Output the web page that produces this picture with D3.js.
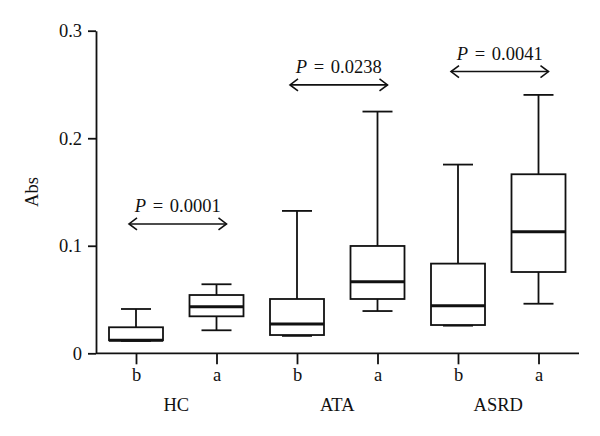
<!DOCTYPE html>
<html>
<head>
<meta charset="utf-8">
<script src="https://cdn.jsdelivr.net/npm/d3@7"></script>
<style>
  body { margin: 0; background: #fff; }
  svg text { font-family: "Liberation Serif", "Times New Roman", serif; font-size: 18.5px; fill: #111; }
  .axis path, .axis line { stroke: #111; stroke-width: 1.8; }
  .box { fill: none; stroke: #111; stroke-width: 1.8; }
  .median { stroke: #111; stroke-width: 3; }
  .whisker { stroke: #111; stroke-width: 1.8; }
  .arrow { fill: none; stroke: #111; stroke-width: 1.6; }
  .ptext { word-spacing: 2px; }
</style>
</head>
<body>
<svg id="chart" width="600" height="436"></svg>
<script>
// groups and conditions (b = before, a = after)
const groups = ["HC", "ATA", "ASRD"];
const conditions = ["b", "a"];

// box statistics, in order HC-b, HC-a, ATA-b, ATA-a, ASRD-b, ASRD-a
const whiskerLow  = [0.0115, 0.0214, 0.0162, 0.0393, 0.0257, 0.0461];
const quartile1   = [0.0121, 0.0344, 0.0170, 0.0505, 0.0263, 0.0756];
const medians     = [0.0121, 0.0434, 0.0273, 0.0666, 0.0443, 0.1131];
const quartile3   = [0.0242, 0.0542, 0.0505, 0.0998, 0.0834, 0.1665];
const whiskerHigh = [0.0412, 0.0642, 0.1324, 0.2248, 0.1755, 0.2403];

// comparison b vs a per group
const pValues = ["0.0001", "0.0238", "0.0041"];
const pLevel  = [0.1203, 0.2496, 0.2620];

const yTicks = [0, 0.1, 0.2, 0.3];

const svg = d3.select("#chart");

const keys = [];
groups.forEach(g => conditions.forEach(c => keys.push(g + "-" + c)));

const x = d3.scalePoint().domain(keys).range([136, 538.5]);
const y = d3.scaleLinear().domain([0, 0.3]).range([353.3, 30.7]);

const boxW = 54, capW = 30;

// y axis
svg.append("g")
   .attr("class", "axis")
   .attr("transform", "translate(96,0)")
   .call(d3.axisLeft(y).tickValues(yTicks).tickSize(8).tickSizeOuter(0).tickPadding(6)
          .tickFormat(d => d === 0 ? "0" : d.toFixed(1)))
   .call(g => g.attr("font-family", null).attr("font-size", null));

// x axis
svg.append("line")
   .attr("class", "whisker")
   .attr("x1", 96).attr("x2", 579)
   .attr("y1", y(0)).attr("y2", y(0));

let xAxis = svg.append("g")
   .attr("class", "axis")
   .attr("transform", "translate(0," + y(0) + ")")
   .call(d3.axisBottom(x).tickSize(11).tickPadding(4).tickFormat(d => d.split("-")[1]))
   .attr("font-family", null).attr("font-size", null);
xAxis.select(".domain").remove();

// group labels
svg.selectAll(".group-label")
   .data(groups)
   .enter()
   .append("text")
   .attr("class", "group-label")
   .attr("text-anchor", "middle")
   .attr("x", g => (x(g + "-b") + x(g + "-a")) / 2)
   .attr("y", 411)
   .text(g => g);

// y label
svg.append("text")
   .attr("transform", "translate(38,192) rotate(-90)")
   .attr("text-anchor", "middle")
   .text("Abs");

// boxes
let boxes = svg.selectAll(".boxplot")
   .data(keys)
   .enter()
   .append("g")
   .attr("class", "boxplot");

boxes.append("line").attr("class", "whisker")
     .attr("x1", (d) => x(d)).attr("x2", (d) => x(d))
     .attr("y1", (d, i) => y(whiskerHigh[i])).attr("y2", (d, i) => y(quartile3[i]));
boxes.append("line").attr("class", "whisker")
     .attr("x1", (d) => x(d)).attr("x2", (d) => x(d))
     .attr("y1", (d, i) => y(quartile1[i])).attr("y2", (d, i) => y(whiskerLow[i]));
boxes.append("line").attr("class", "whisker")
     .attr("x1", (d) => x(d) - capW / 2).attr("x2", (d) => x(d) + capW / 2)
     .attr("y1", (d, i) => y(whiskerHigh[i])).attr("y2", (d, i) => y(whiskerHigh[i]));
boxes.append("line").attr("class", "whisker")
     .attr("x1", (d) => x(d) - capW / 2).attr("x2", (d) => x(d) + capW / 2)
     .attr("y1", (d, i) => y(whiskerLow[i])).attr("y2", (d, i) => y(whiskerLow[i]));
boxes.append("rect").attr("class", "box")
     .attr("x", (d) => x(d) - boxW / 2)
     .attr("width", boxW)
     .attr("y", (d, i) => y(quartile3[i]))
     .attr("height", (d, i) => y(quartile1[i]) - y(quartile3[i]));
boxes.append("line").attr("class", "median")
     .attr("x1", (d) => x(d) - boxW / 2).attr("x2", (d) => x(d) + boxW / 2)
     .attr("y1", (d, i) => y(medians[i])).attr("y2", (d, i) => y(medians[i]));

// P value arrows
let comps = svg.selectAll(".comp")
   .data(groups)
   .enter()
   .append("g")
   .attr("class", "comp");

const left = g => x(g + "-b") - 7;
const right = g => x(g + "-a") + 10;

comps.append("line").attr("class", "arrow")
     .attr("x1", left).attr("x2", right)
     .attr("y1", (d, i) => y(pLevel[i])).attr("y2", (d, i) => y(pLevel[i]));
comps.append("path").attr("class", "arrow")
     .attr("d", (d, i) => {
        let yy = y(pLevel[i]), l = left(d), r = right(d);
        return "M" + (l + 8) + "," + (yy - 6) + "L" + l + "," + yy + "L" + (l + 8) + "," + (yy + 6)
             + "M" + (r - 8) + "," + (yy - 6) + "L" + r + "," + yy + "L" + (r - 8) + "," + (yy + 6);
     });
let ptext = comps.append("text")
     .attr("class", "ptext")
     .attr("text-anchor", "middle")
     .attr("x", d => (left(d) + right(d)) / 2)
     .attr("y", (d, i) => y(pLevel[i]) - 12);
ptext.append("tspan").style("font-style", "italic").text("P");
ptext.append("tspan").text((d, i) => " = " + pValues[i]);
</script>
</body>
</html>
